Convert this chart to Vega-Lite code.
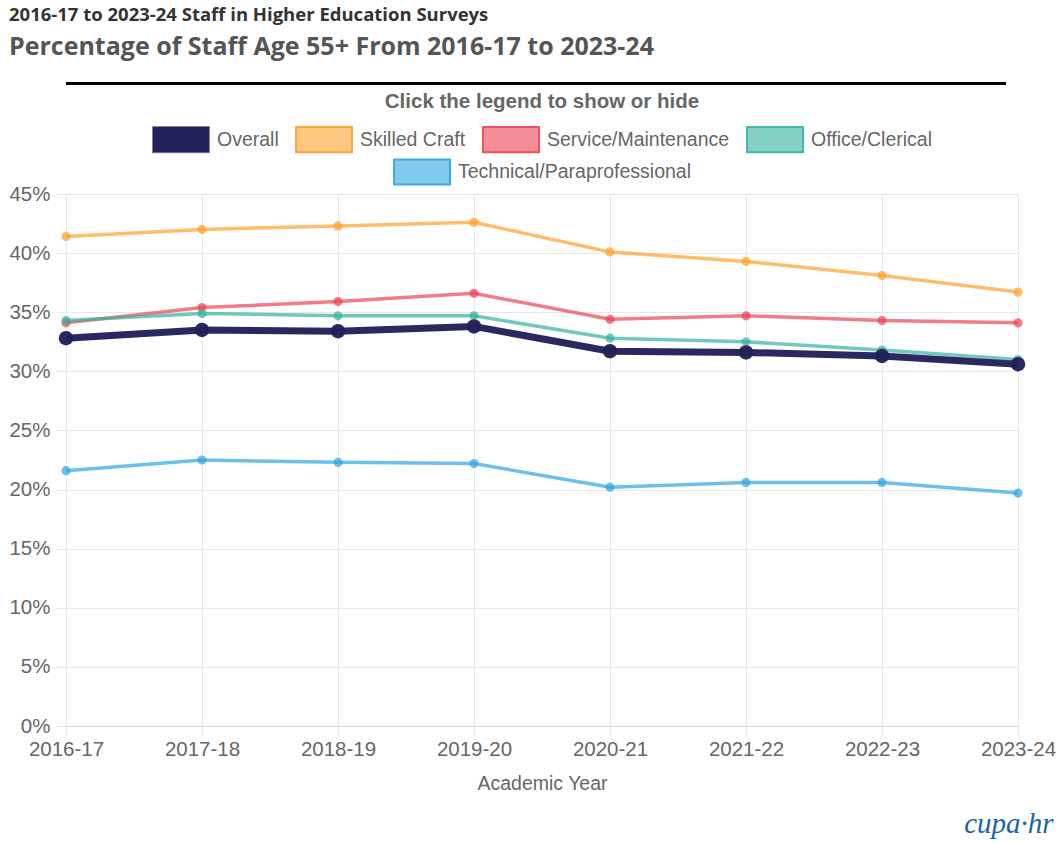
{
  "$schema": "https://vega.github.io/schema/vega-lite/v6.json",
  "background": "white",
  "padding": {"left": 8, "top": 6, "right": 4, "bottom": 4},
  "title": {
    "text": "2016-17 to 2023-24 Staff in Higher Education Surveys",
    "subtitle": "Percentage of Staff Age 55+ From 2016-17 to 2023-24",
    "anchor": "start",
    "font": "Open Sans",
    "fontSize": 18.5,
    "fontWeight": "bold",
    "color": "#333333",
    "subtitleFont": "Open Sans",
    "subtitleFontSize": 25,
    "subtitleFontWeight": "bold",
    "subtitleColor": "#555555",
    "subtitlePadding": 10.5,
    "offset": 22
  },
  "bounds": "flush",
  "spacing": 109,
  "vconcat": [
    {
      "width": 940,
      "height": 3,
      "data": {"values": [{"from": 0, "to": 1}]},
      "mark": {"type": "rule", "strokeWidth": 3, "color": "#000000"},
      "encoding": {
        "x": {"field": "from", "type": "quantitative", "scale": {"domain": [0, 1]}, "axis": null},
        "x2": {"field": "to"}
      }
    },
    {
      "width": 952,
      "height": 532,
      "title": {
        "text": "cupa·hr",
        "orient": "bottom",
        "anchor": "end",
        "align": "right",
        "dx": -2,
        "offset": 17,
        "font": "Liberation Sans Narrow",
        "fontSize": 29,
        "fontStyle": "italic",
        "fontWeight": "normal",
        "color": "#1b64a6"
      },
      "data": {
        "values": [
          {"year": "2016-17", "series": "Overall", "pct": 32.8},
          {"year": "2017-18", "series": "Overall", "pct": 33.5},
          {"year": "2018-19", "series": "Overall", "pct": 33.4},
          {"year": "2019-20", "series": "Overall", "pct": 33.8},
          {"year": "2020-21", "series": "Overall", "pct": 31.7},
          {"year": "2021-22", "series": "Overall", "pct": 31.6},
          {"year": "2022-23", "series": "Overall", "pct": 31.3},
          {"year": "2023-24", "series": "Overall", "pct": 30.6},
          {"year": "2016-17", "series": "Skilled Craft", "pct": 41.4},
          {"year": "2017-18", "series": "Skilled Craft", "pct": 42.0},
          {"year": "2018-19", "series": "Skilled Craft", "pct": 42.3},
          {"year": "2019-20", "series": "Skilled Craft", "pct": 42.6},
          {"year": "2020-21", "series": "Skilled Craft", "pct": 40.1},
          {"year": "2021-22", "series": "Skilled Craft", "pct": 39.3},
          {"year": "2022-23", "series": "Skilled Craft", "pct": 38.1},
          {"year": "2023-24", "series": "Skilled Craft", "pct": 36.7},
          {"year": "2016-17", "series": "Service/Maintenance", "pct": 34.1},
          {"year": "2017-18", "series": "Service/Maintenance", "pct": 35.4},
          {"year": "2018-19", "series": "Service/Maintenance", "pct": 35.9},
          {"year": "2019-20", "series": "Service/Maintenance", "pct": 36.6},
          {"year": "2020-21", "series": "Service/Maintenance", "pct": 34.4},
          {"year": "2021-22", "series": "Service/Maintenance", "pct": 34.7},
          {"year": "2022-23", "series": "Service/Maintenance", "pct": 34.3},
          {"year": "2023-24", "series": "Service/Maintenance", "pct": 34.1},
          {"year": "2016-17", "series": "Office/Clerical", "pct": 34.3},
          {"year": "2017-18", "series": "Office/Clerical", "pct": 34.9},
          {"year": "2018-19", "series": "Office/Clerical", "pct": 34.7},
          {"year": "2019-20", "series": "Office/Clerical", "pct": 34.7},
          {"year": "2020-21", "series": "Office/Clerical", "pct": 32.8},
          {"year": "2021-22", "series": "Office/Clerical", "pct": 32.5},
          {"year": "2022-23", "series": "Office/Clerical", "pct": 31.8},
          {"year": "2023-24", "series": "Office/Clerical", "pct": 31.0},
          {"year": "2016-17", "series": "Technical/Paraprofessional", "pct": 21.6},
          {"year": "2017-18", "series": "Technical/Paraprofessional", "pct": 22.5},
          {"year": "2018-19", "series": "Technical/Paraprofessional", "pct": 22.3},
          {"year": "2019-20", "series": "Technical/Paraprofessional", "pct": 22.2},
          {"year": "2020-21", "series": "Technical/Paraprofessional", "pct": 20.2},
          {"year": "2021-22", "series": "Technical/Paraprofessional", "pct": 20.6},
          {"year": "2022-23", "series": "Technical/Paraprofessional", "pct": 20.6},
          {"year": "2023-24", "series": "Technical/Paraprofessional", "pct": 19.7}
        ]
      },
      "encoding": {
        "x": {
          "field": "year",
          "type": "ordinal",
          "title": "Academic Year",
          "scale": {"type": "point", "padding": 0},
          "axis": {
            "labelAngle": 0,
            "grid": true,
            "tickSize": 9,
            "labelPadding": 4,
            "titlePadding": 15,
            "domain": true,
            "domainColor": "#d6d6d6"
          }
        },
        "y": {
          "field": "pct",
          "type": "quantitative",
          "title": null,
          "scale": {"domain": [0, 45], "nice": false, "zero": true},
          "axis": {
            "values": [0, 5, 10, 15, 20, 25, 30, 35, 40, 45],
            "labelExpr": "datum.value + '%'",
            "tickSize": 10,
            "labelPadding": 6,
            "domain": false
          }
        }
      },
      "layer": [
        {
          "transform": [{"filter": "datum.series !== 'Technical/Paraprofessional'"}],
          "encoding": {
            "color": {
              "field": "series",
              "type": "nominal",
              "scale": {
                "domain": ["Overall", "Skilled Craft", "Service/Maintenance", "Office/Clerical"],
                "range": ["#23215a", "#fca12d", "#ec4552", "#34b2a1"]
              },
              "legend": {
                "title": "Click the legend to show or hide",
                "orient": "top",
                "direction": "horizontal",
                "titleAnchor": "middle",
                "titleFontSize": 20.5,
                "titleFontWeight": "bold",
                "titleColor": "#666666",
                "titleLimit": 700,
                "titlePadding": 12,
                "symbolType": "M-1,-0.9H3V0.9H-1Z",
                "symbolSize": 784,
                "symbolStrokeWidth": 2,
                "symbolOpacity": 1,
                "labelOffset": 35,
                "columnPadding": 13,
                "labelLimit": 400,
                "encoding": {
                  "symbols": {
                    "fillOpacity": {"value": {"expr": "datum.value === 'Overall' ? 1 : 0.6"}},
                    "strokeOpacity": {"value": {"expr": "datum.value === 'Overall' ? 0.55 : 0.9"}}
                  }
                }
              }
            }
          },
          "layer": [
            {
              "transform": [{"filter": "datum.series !== 'Overall'"}],
              "mark": {"type": "line", "strokeWidth": 3.5, "opacity": 0.7}
            },
            {
              "transform": [{"filter": "datum.series !== 'Overall'"}],
              "mark": {"type": "point", "filled": true, "size": 85, "opacity": 0.7}
            },
            {
              "transform": [{"filter": "datum.series === 'Overall'"}],
              "mark": {"type": "line", "strokeWidth": 7, "opacity": 0.97}
            },
            {
              "transform": [{"filter": "datum.series === 'Overall'"}],
              "mark": {"type": "point", "filled": true, "size": 210, "opacity": 0.97}
            }
          ]
        },
        {
          "transform": [{"filter": "datum.series === 'Technical/Paraprofessional'"}],
          "encoding": {
            "color": {
              "field": "series",
              "type": "nominal",
              "scale": {"domain": ["Technical/Paraprofessional"], "range": ["#2da5e1"]},
              "legend": {
                "title": null,
                "orient": "top",
                "direction": "horizontal",
                "symbolType": "M-1,-0.9H3V0.9H-1Z",
                "symbolSize": 784,
                "symbolStrokeWidth": 2,
                "symbolOpacity": 1,
                "labelOffset": 35,
                "labelLimit": 400,
                "encoding": {
                  "symbols": {
                    "fillOpacity": {"value": 0.6},
                    "strokeOpacity": {"value": 0.9}
                  }
                }
              }
            }
          },
          "layer": [
            {"mark": {"type": "line", "strokeWidth": 3.5, "opacity": 0.7}},
            {"mark": {"type": "point", "filled": true, "size": 85, "opacity": 0.7}}
          ]
        }
      ],
      "resolve": {"scale": {"color": "independent"}}
    }
  ],
  "resolve": {"scale": {"color": "independent"}},
  "config": {
    "view": {"stroke": null},
    "font": "Liberation Sans",
    "axis": {
      "labelFont": "Liberation Sans",
      "labelFontSize": 20.5,
      "labelColor": "#666666",
      "titleFont": "Liberation Sans",
      "titleFontSize": 19.5,
      "titleFontWeight": "normal",
      "titleColor": "#666666",
      "gridColor": "#e8e8e8",
      "tickColor": "#e8e8e8"
    },
    "legend": {
      "labelFont": "Liberation Sans",
      "labelFontSize": 19.5,
      "labelColor": "#666666",
      "titleFont": "Liberation Sans",
      "offset": 5,
      "layout": {
        "top": {"anchor": "middle", "direction": "vertical", "center": true, "margin": -1, "offset": 5, "bounds": "full"}
      }
    }
  }
}
